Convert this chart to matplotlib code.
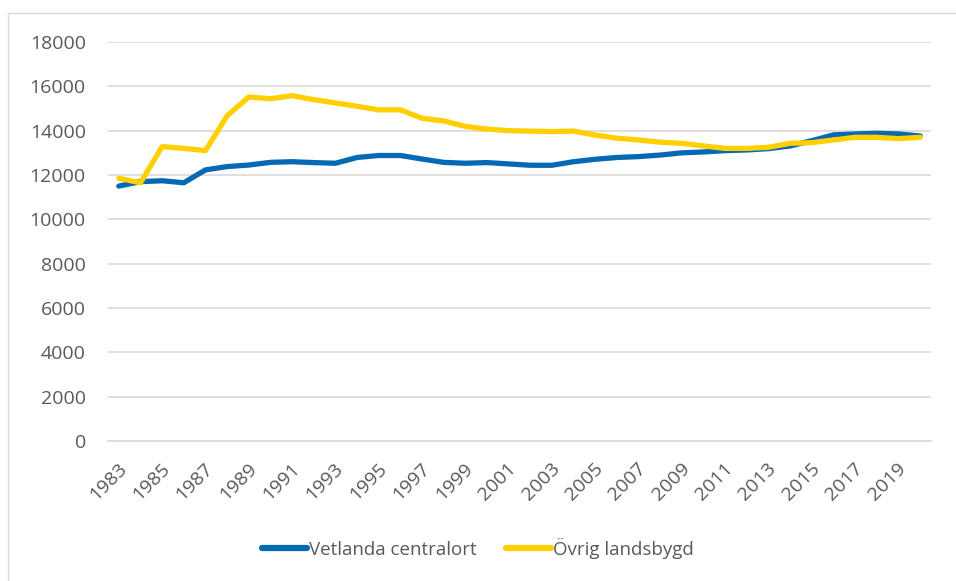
import matplotlib.pyplot as plt
from matplotlib.lines import Line2D
from matplotlib.transforms import ScaledTranslation

#===== DATA =======================================#
years = list(range(1983, 2021))
centralort = [11500, 11700, 11740, 11650, 12230, 12380, 12450, 12570, 12600, 12560,
              12530, 12790, 12880, 12880, 12720, 12570, 12530, 12560, 12500, 12440,
              12440, 12600, 12710, 12790, 12830, 12900, 13000, 13040, 13100, 13130,
              13190, 13310, 13550, 13810, 13850, 13880, 13850, 13760]
landsbygd = [11850, 11650, 13280, 13200, 13100, 14670, 15520, 15440, 15580, 15400,
             15250, 15100, 14940, 14940, 14560, 14440, 14190, 14070, 14000, 13980,
             13960, 13980, 13800, 13660, 13580, 13480, 13430, 13310, 13200, 13200,
             13250, 13430, 13460, 13580, 13700, 13700, 13640, 13700]
yticks = list(range(0, 18001, 2000))

#===== PLOT =======================================#
plt.rcParams['font.family'] = ['Open Sans', 'DejaVu Sans']
grey = '#595959'
W, H = 956, 581

fig = plt.figure(figsize=(W/100, H/100), dpi=100)
ax = fig.add_axes([108/W, 1 - 441/H, (931-108)/W, (441-42)/H])

x = list(range(len(years)))
ax.plot(x, centralort, color='#0569B4', lw=3.8, solid_capstyle='round', label='Vetlanda centralort')
ax.plot(x, landsbygd, color='#FFD000', lw=3.8, solid_capstyle='round', label='Övrig landsbygd')

ax.set_xlim(-0.5, len(years) - 0.5)
ax.set_ylim(0, 18000)
ax.set_yticks(yticks)
ax.set_yticklabels([str(v) for v in yticks], fontsize=14, color=grey)
ax.set_xticks(x[::2])
ax.set_xticklabels([str(y) for y in years[::2]], rotation=45, ha='right', va='center',
                   rotation_mode='anchor', fontsize=14, color=grey)
ax.tick_params(axis='y', length=0, pad=16)
ax.tick_params(axis='x', length=0, pad=18)
# nudge the rotated year labels a little to the right
shift = ScaledTranslation(5/100, 0, fig.dpi_scale_trans)
for lbl in ax.get_xticklabels():
    lbl.set_transform(lbl.get_transform() + shift)
ax.grid(axis='y', color='#D9D9D9', lw=1.2)
ax.set_axisbelow(True)
for s in ['top', 'right', 'left']:
    ax.spines[s].set_visible(False)
ax.spines['bottom'].set_color('#D9D9D9')
ax.spines['bottom'].set_linewidth(1.2)

leg = fig.legend(loc='center', bbox_to_anchor=(0.5, 1 - 548/H), ncol=2, frameon=False,
                 fontsize=13.5, handlelength=2.4, handletextpad=0.1, columnspacing=1.6)
for t in leg.get_texts():
    t.set_color(grey)
for h in leg.legend_handles:
    h.set_linewidth(4.5)

# light border of the chart area (left and top edges visible)
fig.add_artist(Line2D([8/W, 8/W], [0, 1 - 13/H], transform=fig.transFigure, color='#D9D9D9', lw=1))
fig.add_artist(Line2D([8/W, 1], [1 - 13/H, 1 - 13/H], transform=fig.transFigure, color='#D9D9D9', lw=1))

fig.savefig('out.png', dpi=100)
